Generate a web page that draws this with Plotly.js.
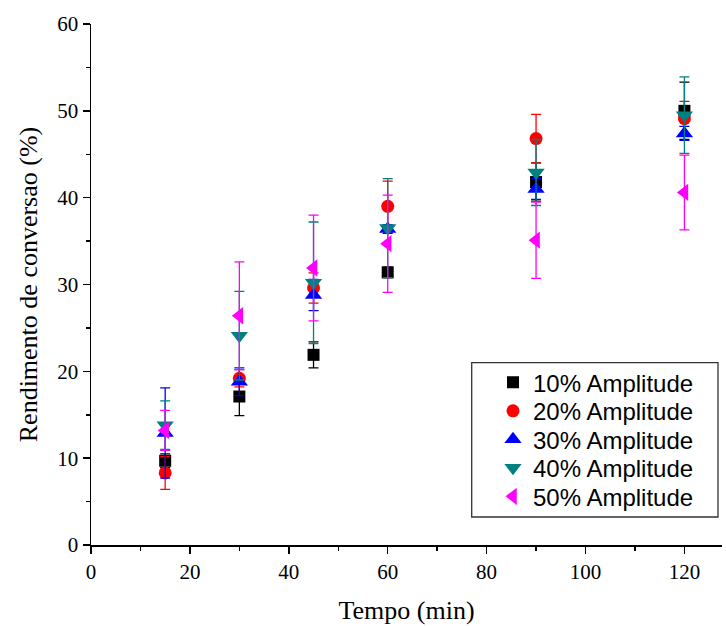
<!DOCTYPE html>
<html>
<head>
<meta charset="utf-8">
<script src="https://cdn.plot.ly/plotly-3.0.1.min.js"></script>
<style>html,body{margin:0;padding:0;background:#fff;}#chart{width:726px;height:626px;}</style>
</head>
<body>
<div id="chart"></div>
<script>
const tempo = [15, 30, 45, 60, 90, 120];
const names = ["10% Amplitude", "20% Amplitude", "30% Amplitude", "40% Amplitude", "50% Amplitude"];
const amp10 = [9.7, 17.1, 21.9, 31.4, 41.8, 50.0];
const amp10err = [0.8, 2.2, 1.5, 0.6, 2.2, 3.3];
const amp20 = [8.3, 19.2, 29.6, 39.0, 46.8, 49.1];
const amp20err = [1.9, 1.0, 1.75, 2.9, 2.8, 2.0];
const amp30 = [12.9, 18.8, 28.8, 36.4, 41.0, 47.4];
const amp30err = [5.2, 1.6, 1.8, 0.5, 1.2, 0.8];
const amp40 = [13.8, 24.1, 30.2, 36.5, 42.9, 49.5];
const amp40err = [2.8, 5.1, 7.0, 5.7, 3.8, 4.4];
const amp50 = [13.2, 26.4, 31.9, 34.7, 35.1, 40.6];
const amp50err = [2.3, 6.2, 6.1, 5.6, 4.4, 4.3];

const series = [amp10, amp20, amp30, amp40, amp50];
const errs = [amp10err, amp20err, amp30err, amp40err, amp50err];
const colors = ["#000000", "#ff0000", "#0000ff", "#008080", "#ff00ff"];
const symbols = ["square", "circle", "triangle-up", "triangle-down", "triangle-left"];
const sizes = [12, 13, 15, 15, 15];
const legendIds = ["legend", "legend2", "legend3", "legend4", "legend5"];

const traces = series.map((s, i) => ({
  type: "scatter",
  mode: "markers",
  name: names[i],
  legend: legendIds[i],
  x: tempo,
  y: s,
  marker: {color: colors[i], symbol: symbols[i], size: sizes[i]},
  error_y: {type: "data", array: errs[i], visible: true, color: colors[i], thickness: 1.3, width: 5}
}));

const serif = "Liberation Serif, Times New Roman, serif";
const tickFont = {family: serif, size: 21, color: "#000"};
const layout = {
  width: 726, height: 626,
  margin: {l: 91, r: 4, t: 24, b: 81},
  paper_bgcolor: "#fff", plot_bgcolor: "#fff",
  showlegend: true,
  xaxis: {
    range: [0, 127.6], tickvals: [0, 20, 40, 60, 80, 100, 120],
    ticks: "outside", ticklen: 7, tickwidth: 1.5, tickcolor: "#000",
    minor: {dtick: 10, ticks: "outside", ticklen: 4, tickwidth: 1.5, tickcolor: "#000"},
    showline: true, linecolor: "#000", linewidth: 1.5, showgrid: false, zeroline: false,
    tickfont: tickFont,
    title: {text: "Tempo (min)", font: {family: serif, size: 26, color: "#000"}, standoff: 18}
  },
  yaxis: {
    range: [0, 60], tickvals: [0, 10, 20, 30, 40, 50, 60],
    ticks: "outside", ticklen: 7, tickwidth: 1.5, tickcolor: "#000",
    minor: {dtick: 5, ticks: "outside", ticklen: 4, tickwidth: 1.5, tickcolor: "#000"},
    showline: true, linecolor: "#000", linewidth: 1.5, showgrid: false, zeroline: false,
    tickfont: tickFont,
    title: {text: "Rendimento de conversao (%)", font: {family: serif, size: 26, color: "#000"}, standoff: 12}
  },
  shapes: [{
    type: "rect", xref: "paper", yref: "paper",
    x0: (471.7 - 91) / 631, x1: (718 - 91) / 631,
    y0: (545 - 517) / 521, y1: (545 - 362.7) / 521,
    line: {color: "#333", width: 1.3}, fillcolor: "#fff", layer: "above"
  }]
};
const rowY = [382.7, 411.2, 439.7, 468.2, 496.7];
legendIds.forEach((id, i) => {
  layout[id] = {
    x: (493 - 91) / 631, y: (545 - rowY[i]) / 521, xanchor: "left", yanchor: "middle",
    borderwidth: 0, bgcolor: "rgba(0,0,0,0)",
    font: {family: "Liberation Sans, Arial, sans-serif", size: 24, color: "#000"}
  };
});
Plotly.newPlot("chart", traces, layout, {displayModeBar: false, staticPlot: true});
</script>
</body>
</html>
